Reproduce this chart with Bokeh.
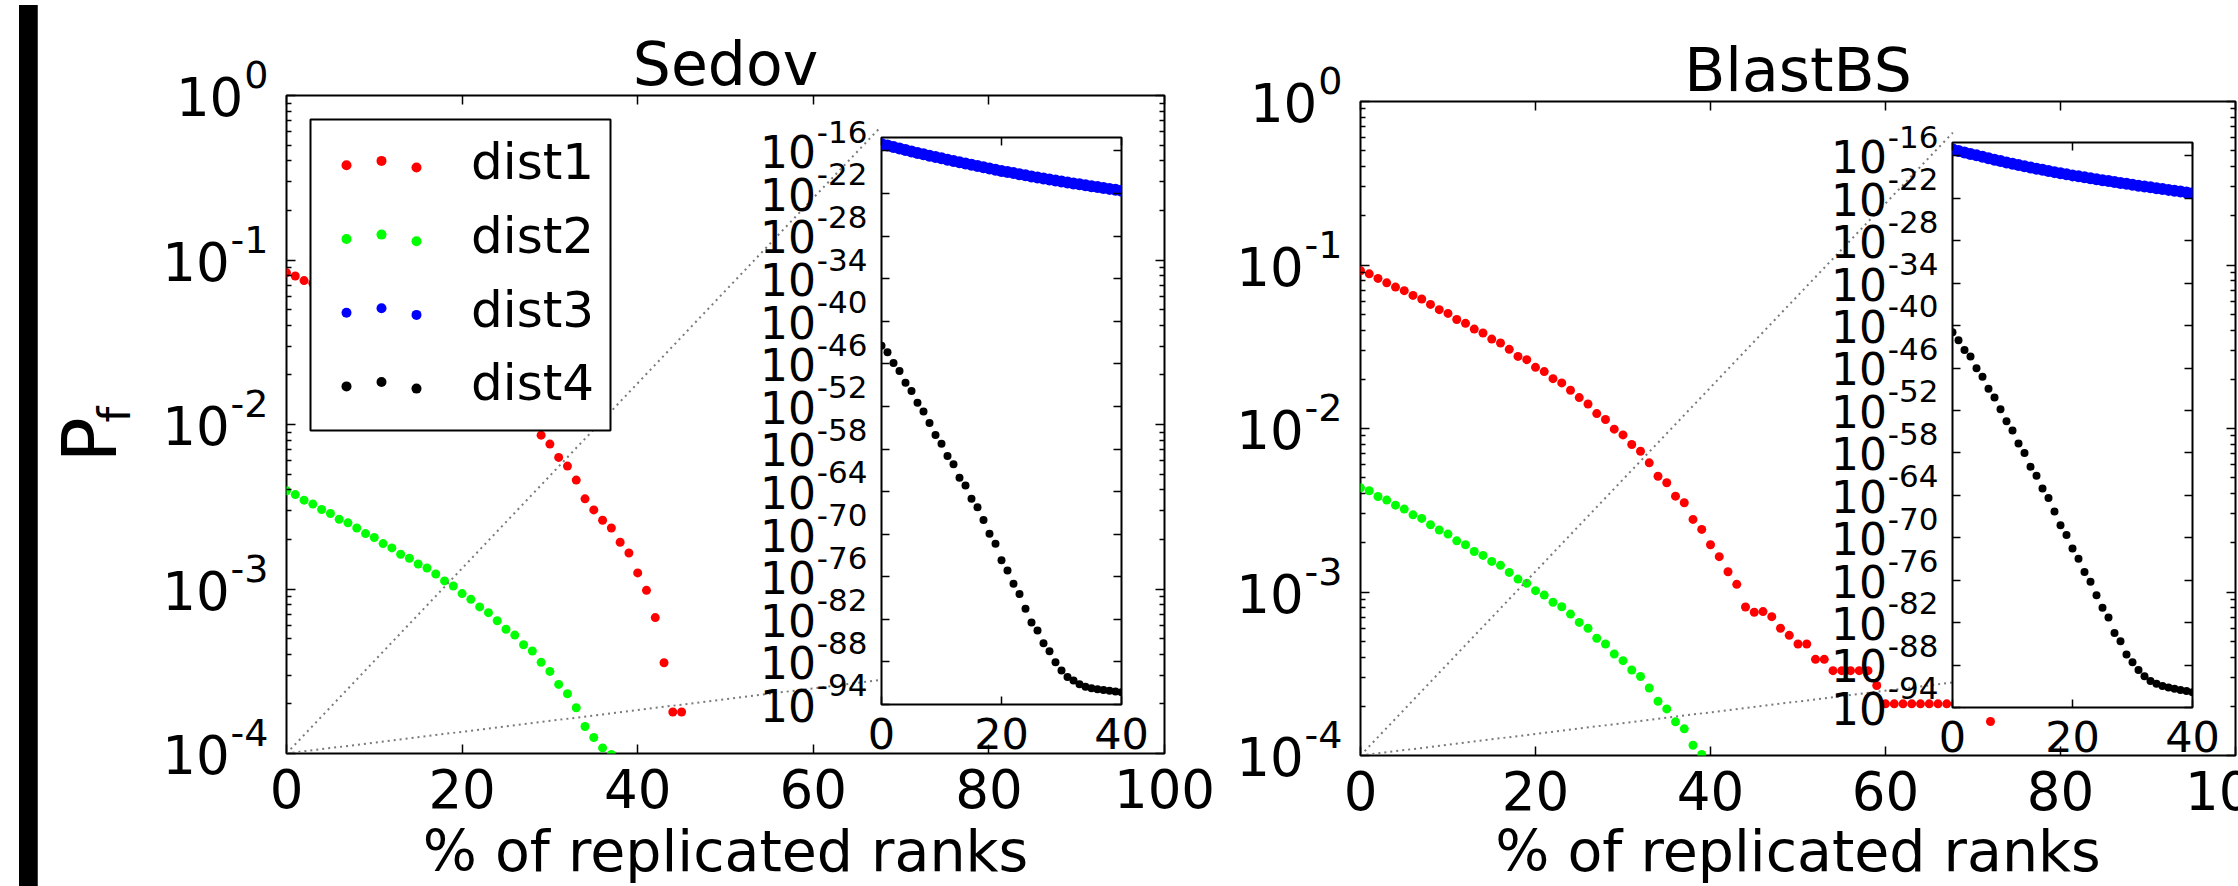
import math

from bokeh.core.properties import value
from bokeh.embed import file_html
from bokeh.models import (Div, FixedTicker, GridBox, LinearAxis, LogAxis, Range1d, Spacer)
from bokeh.plotting import figure
from bokeh.resources import INLINE

FONT = "DejaVu Sans"
RED, GREEN, BLUE, BLACK = "#ff0000", "#00ff00", "#0000ff", "#000000"
DOT_GREY = "#7a7a7a"

# ---------------------------------------------------------------------------
# Data: x = % of replicated ranks, values = log10(P_f)
# ---------------------------------------------------------------------------
sedov_d1_x = [0, 1, 2, 3] + list(range(29, 46))
sedov_d1_lg = [-1.077, -1.097, -1.125, -1.141,
               -2.065, -2.119, -2.200, -2.253, -2.338, -2.452, -2.519, -2.582, -2.629,
               -2.716, -2.781, -2.902, -3.008, -3.174, -3.448, -3.748, -3.748]

sedov_d2_x = list(range(0, 38))
sedov_d2_lg = [-2.403, -2.426, -2.460, -2.484, -2.517, -2.541, -2.576, -2.598, -2.629, -2.663,
               -2.687, -2.724, -2.750, -2.789, -2.813, -2.848, -2.872, -2.909, -2.951, -2.982,
               -3.028, -3.063, -3.109, -3.144, -3.193, -3.245, -3.280, -3.339, -3.377, -3.446,
               -3.501, -3.580, -3.637, -3.722, -3.836, -3.903, -3.966, -4.006]

sedov_d3_x = list(range(0, 41))
sedov_d3_lg = [-15.03, -15.24, -15.45, -15.66, -15.86, -16.06, -16.27, -16.47, -16.66, -16.85,
               -17.04, -17.22, -17.40, -17.58, -17.76, -17.94, -18.12, -18.29, -18.46, -18.64,
               -18.81, -18.97, -19.12, -19.28, -19.43, -19.58, -19.73, -19.88, -20.02, -20.17,
               -20.31, -20.44, -20.57, -20.70, -20.83, -20.96, -21.09, -21.21, -21.34, -21.46,
               -21.59]

sedov_d4_x = list(range(0, 41))
sedov_d4_lg = [-43.43, -44.37, -45.88, -46.99, -48.65, -49.81, -51.48, -52.71, -54.32, -56.04,
               -57.26, -58.99, -60.16, -62.04, -63.15, -64.99, -66.21, -68.00, -69.94, -71.33,
               -73.66, -75.11, -76.99, -78.44, -80.49, -82.45, -83.56, -85.38, -86.49, -88.05,
               -89.22, -90.11, -90.61, -91.16, -91.50, -91.72, -91.84, -91.95, -92.06, -92.17,
               -92.29]

blast_d1_x = list(range(0, 70)) + [72]
blast_d1_lg = [-1.035, -1.054, -1.082, -1.109, -1.135, -1.157, -1.186, -1.208, -1.241, -1.273,
               -1.296, -1.333, -1.357, -1.392, -1.416, -1.453, -1.477, -1.516, -1.559, -1.579,
               -1.626, -1.652, -1.695, -1.721, -1.766, -1.811, -1.850, -1.909, -1.945, -2.004,
               -2.039, -2.098, -2.139, -2.210, -2.292, -2.332, -2.414, -2.454, -2.556, -2.617,
               -2.711, -2.784, -2.876, -2.953, -3.092, -3.124, -3.120, -3.151, -3.222, -3.265,
               -3.318, -3.318, -3.412, -3.412, -3.481, -3.481, -3.481, -3.481, -3.481, -3.572,
               -3.684, -3.684, -3.684, -3.684, -3.684, -3.684, -3.684, -3.684, -3.684, -3.684,
               -3.792]

blast_d2_x = list(range(0, 40))
blast_d2_lg = [-2.363, -2.381, -2.416, -2.438, -2.469, -2.493, -2.528, -2.550, -2.589, -2.621,
               -2.646, -2.687, -2.711, -2.752, -2.776, -2.813, -2.837, -2.880, -2.921, -2.947,
               -2.992, -3.019, -3.063, -3.090, -3.135, -3.186, -3.222, -3.283, -3.318, -3.379,
               -3.420, -3.477, -3.517, -3.587, -3.668, -3.715, -3.794, -3.837, -3.937, -3.994]

blast_d3_x = list(range(0, 41))
blast_d3_lg = [-15.07, -15.29, -15.50, -15.71, -15.92, -16.13, -16.33, -16.53, -16.73, -16.92,
               -17.11, -17.29, -17.47, -17.64, -17.81, -17.97, -18.13, -18.29, -18.45, -18.60,
               -18.75, -18.89, -19.03, -19.17, -19.30, -19.43, -19.56, -19.69, -19.82, -19.95,
               -20.08, -20.20, -20.32, -20.44, -20.56, -20.68, -20.80, -20.92, -21.04, -21.16,
               -21.28]

blast_d4_x = list(range(0, 41))
blast_d4_lg = [-40.95, -42.05, -43.43, -44.36, -46.02, -47.23, -48.93, -50.15, -51.81, -53.51,
               -54.84, -56.65, -58.02, -59.95, -61.22, -63.04, -64.37, -66.29, -68.22, -69.59,
               -71.52, -72.95, -74.83, -76.20, -78.13, -79.90, -81.27, -83.48, -84.63, -86.51,
               -87.60, -88.70, -89.58, -90.25, -90.63, -90.97, -91.18, -91.35, -91.51, -91.68,
               -91.85]

series_names = ["dist1", "dist2", "dist3", "dist4"]
series_colors = [RED, GREEN, BLUE, BLACK]
panel_titles = ["Sedov", "BlastBS"]
x_title = "% of replicated ranks"

# axes
main_xticks = [0, 20, 40, 60, 80, 100]
main_yexp = [-4, -3, -2, -1, 0]
inset_xticks = [0, 20, 40]
inset_yexp = [-94, -88, -82, -76, -70, -64, -58, -52, -46, -40, -34, -28, -22, -16]
inset_ytop_exp = -14.1

# guide lines from the main origin towards the zoomed inset
guide_x = [0, 67.7]
guide_upper_lg = [-4.0, -0.19]
guide_lower_lg = [-4.0, -3.553]

# ---------------------------------------------------------------------------
# Page layout (px from the top-left of the page)
# ---------------------------------------------------------------------------
PAGE_W, PAGE_H = 2238, 886
# canvas boxes (x0, x1, y0, y1) and plotting frames (l, r, t, b)
BOX = {"sedov": (37, 1230, 0, 886), "blast": (1230, 2238, 0, 886),
       "sedov_in": (740, 1135, 110, 775), "blast_in": (1810, 2210, 115, 780)}
FRAME = {"sedov": dict(l=286, r=1164, t=95, b=753), "blast": dict(l=1360, r=2235, t=101, b=755),
         "sedov_in": dict(l=881, r=1121, t=137, b=704), "blast_in": dict(l=1952, r=2192, t=142, b=707)}

ADV = {"-": 0.361, **{d: 0.636 for d in "0123456789"}}
MID = 0.346  # distance from the alphabetic baseline to the middle of the text box (em)


def pw(lg):
    return [10.0 ** v for v in lg]


def style_axes(p, major_len, minor_len):
    for ax in p.axis:
        ax.axis_line_color = None
        ax.major_tick_in = major_len
        ax.major_tick_out = 0
        ax.minor_tick_in = minor_len
        ax.minor_tick_out = 0
        ax.major_tick_line_width = 1.5
        ax.minor_tick_line_width = 1.5
        ax.major_tick_line_color = "black"
        ax.minor_tick_line_color = "black"
        ax.major_label_text_font_size = "0px"
        ax.major_label_text_color = None
        ax.major_label_standoff = 0
        ax.axis_label = None
    for ax in p.xaxis:
        ax.minor_tick_line_color = None


def base_fig(key, x_range, y_range, transparent_border):
    x0, x1, y0, y1 = BOX[key]
    fr = FRAME[key]
    p = figure(width=x1 - x0, height=y1 - y0, x_range=x_range, y_range=y_range,
               y_axis_type="log", output_backend="svg", toolbar_location=None,
               min_border_left=fr["l"] - x0, min_border_right=x1 - fr["r"],
               min_border_top=fr["t"] - y0, min_border_bottom=y1 - fr["b"])
    p.background_fill_color = "white"
    p.border_fill_color = None if transparent_border else "white"
    p.outline_line_color = "black"
    p.outline_line_width = 2
    p.xgrid.visible = False
    p.ygrid.visible = False
    p.add_layout(LogAxis(), "right")
    p.add_layout(LinearAxis(), "above")
    return p


def make_main(key, d1x, d1, d2x, d2):
    p = base_fig(key, Range1d(0, 100), Range1d(10.0 ** main_yexp[0], 10.0 ** main_yexp[-1]), False)
    major = [10.0 ** e for e in main_yexp]
    minor = [k * 10.0 ** e for e in main_yexp[:-1] for k in range(2, 10)]
    for ax in p.xaxis:
        ax.ticker = FixedTicker(ticks=main_xticks)
    for ax in p.yaxis:
        ax.ticker = FixedTicker(ticks=major, minor_ticks=minor)
    style_axes(p, 9, 5)
    p.scatter(d1x, pw(d1), size=9, color=RED, line_color=None)
    p.scatter(d2x, pw(d2), size=9, color=GREEN, line_color=None)
    for lg in (guide_upper_lg, guide_lower_lg):
        p.line(x=guide_x, y=pw(lg), line_color=DOT_GREY, line_width=2, line_dash="2 4")
    return p


def make_inset(key, d3x, d3, d4x, d4):
    p = base_fig(key, Range1d(0, 40), Range1d(10.0 ** inset_yexp[0], 10.0 ** inset_ytop_exp), True)
    for ax in p.xaxis:
        ax.ticker = FixedTicker(ticks=inset_xticks)
    for ax in p.yaxis:
        ax.ticker = FixedTicker(ticks=[10.0 ** e for e in inset_yexp], minor_ticks=[])
    style_axes(p, 8, 0)
    p.scatter(d3x, pw(d3), size=12, color=BLUE, line_color=None)
    p.scatter(d4x, pw(d4), size=8, color=BLACK, line_color=None)
    return p


sedov = make_main("sedov", sedov_d1_x, sedov_d1_lg, sedov_d2_x, sedov_d2_lg)
blast = make_main("blast", blast_d1_x, blast_d1_lg, blast_d2_x, blast_d2_lg)
sedov_in = make_inset("sedov_in", sedov_d3_x, sedov_d3_lg, sedov_d4_x, sedov_d4_lg)
blast_in = make_inset("blast_in", blast_d3_x, blast_d3_lg, blast_d4_x, blast_d4_lg)

# ---------------------------------------------------------------------------
# Text layer: a transparent canvas over the whole page for titles, tick labels,
# axis labels and the legend (page pixel coordinates, y measured from the top).
# ---------------------------------------------------------------------------
tl = figure(width=PAGE_W, height=PAGE_H, x_range=Range1d(0, PAGE_W), y_range=Range1d(0, PAGE_H),
            output_backend="svg", toolbar_location=None, title=None,
            x_axis_location=None, y_axis_location=None,
            min_border_left=0, min_border_right=0, min_border_top=0, min_border_bottom=0)
tl.background_fill_color = None
tl.border_fill_color = None
tl.outline_line_color = None
tl.xgrid.visible = False
tl.ygrid.visible = False


def Y(v):
    return [PAGE_H - t for t in v] if isinstance(v, list) else PAGE_H - v


def put(xs, baselines, texts, size_px, align, style="normal"):
    """Horizontal text whose alphabetic baseline sits at the given page y."""
    ys = [b - MID * size_px for b in baselines]
    tl.text(x=xs, y=Y(ys), text=texts, text_font=value(FONT), text_font_style=style,
            text_font_size=value(f"{size_px}px"), text_align=align,
            text_baseline="alphabetic", text_color="black")


def put_up(baseline_x, start_y, text, size_px, style="normal"):
    """Text reading upwards; its baseline is the vertical line x = baseline_x."""
    tl.text(x=[baseline_x - MID * size_px], y=Y([start_y]), text=[text], angle=math.pi / 2,
            text_font=value(FONT), text_font_style=style, text_font_size=value(f"{size_px}px"),
            text_align="left", text_baseline="alphabetic", text_color="black")


def x_tick_labels(key, ticks, lo, hi, size_px, drop):
    fr = FRAME[key]
    xs = [fr["l"] + (v - lo) / (hi - lo) * (fr["r"] - fr["l"]) for v in ticks]
    put(xs, [fr["b"] + drop] * len(ticks), [str(v) for v in ticks], size_px, "center")


def y_tick_labels(key, exps, lo, hi, base_px, exp_px, gap, rise):
    fr = FRAME[key]
    ys = [fr["b"] - (e - lo) / (hi - lo) * (fr["b"] - fr["t"]) for e in exps]
    etxt = [str(e) for e in exps]
    exp_right = fr["l"] - gap
    base_right = [exp_right - exp_px * sum(ADV[c] for c in s) - 1 for s in etxt]
    base_line = [y + 0.365 * base_px for y in ys]
    put(base_right, base_line, ["10"] * len(exps), base_px, "right")
    put([exp_right] * len(exps), [b - rise for b in base_line], etxt, exp_px, "right")


for key, name in (("sedov", panel_titles[0]), ("blast", panel_titles[1])):
    fr = FRAME[key]
    cx = (fr["l"] + fr["r"]) / 2
    put([cx], [fr["t"] - 10.3], [name], 60, "center")
    put([cx], [870], [x_title], 57, "center")
    x_tick_labels(key, main_xticks, 0, 100, 53, 53)
    y_tick_labels(key, main_yexp, main_yexp[0], main_yexp[-1], 53, 38, 18, 27)

for key in ("sedov_in", "blast_in"):
    x_tick_labels(key, inset_xticks, 0, 40, 43, 43.5)
    y_tick_labels(key, inset_yexp, inset_yexp[0], inset_ytop_exp, 44, 31, 14, 24.5)

# y-axis title: P with subscript f, reading upwards
put_up(115, 462, "P", 75)
put_up(130, 422, "f", 45)

# legend of the Sedov panel: three dots per entry
LEG_BOX = (310, 610, 119, 430)
LEG_DOT_X = [346, 381, 416]
LEG_DOT_DY = [4.4, 0.0, 6.6]
LEG_ROW0, LEG_PITCH, LEG_TEXT_X, LEG_TEXT_DY = 160.4, 73.7, 470.5, 18.7
tl.quad(left=[LEG_BOX[0]], right=[LEG_BOX[1]], top=Y([LEG_BOX[2]]), bottom=Y([LEG_BOX[3]]),
        fill_color="white", line_color="black", line_width=2)
for i, (name, col) in enumerate(zip(series_names, series_colors)):
    yc = LEG_ROW0 + i * LEG_PITCH
    tl.scatter(LEG_DOT_X, Y([yc + d for d in LEG_DOT_DY]), size=10, color=col, line_color=None)
    put([LEG_TEXT_X], [yc + LEG_TEXT_DY], [name], 50, "left")

bar = Div(width=23, height=886, styles={"background-color": "black"})

# grid tracks: zero-width tracks keep every canvas on its own grid lines
cols = ["0px", "14px", "23px", "703px", "395px", "95px", "580px", "400px", "28px", "0px"]
rows = ["0px", "0px", "110px", "5px", "660px", "5px", "106px", "0px", "0px"]
page = GridBox(
    children=[
        (Spacer(width=14, height=886), 1, 1, 6, 1),
        (bar, 1, 2, 6, 1),
        (sedov, 1, 3, 6, 3),
        (blast, 2, 6, 6, 3),
        (sedov_in, 3, 4, 2, 1),
        (blast_in, 4, 7, 2, 1),
        (tl, 0, 0, 9, 10),
    ],
    cols=cols, rows=rows, spacing=0,
)

open("out.html", "w").write(file_html(page, INLINE))
